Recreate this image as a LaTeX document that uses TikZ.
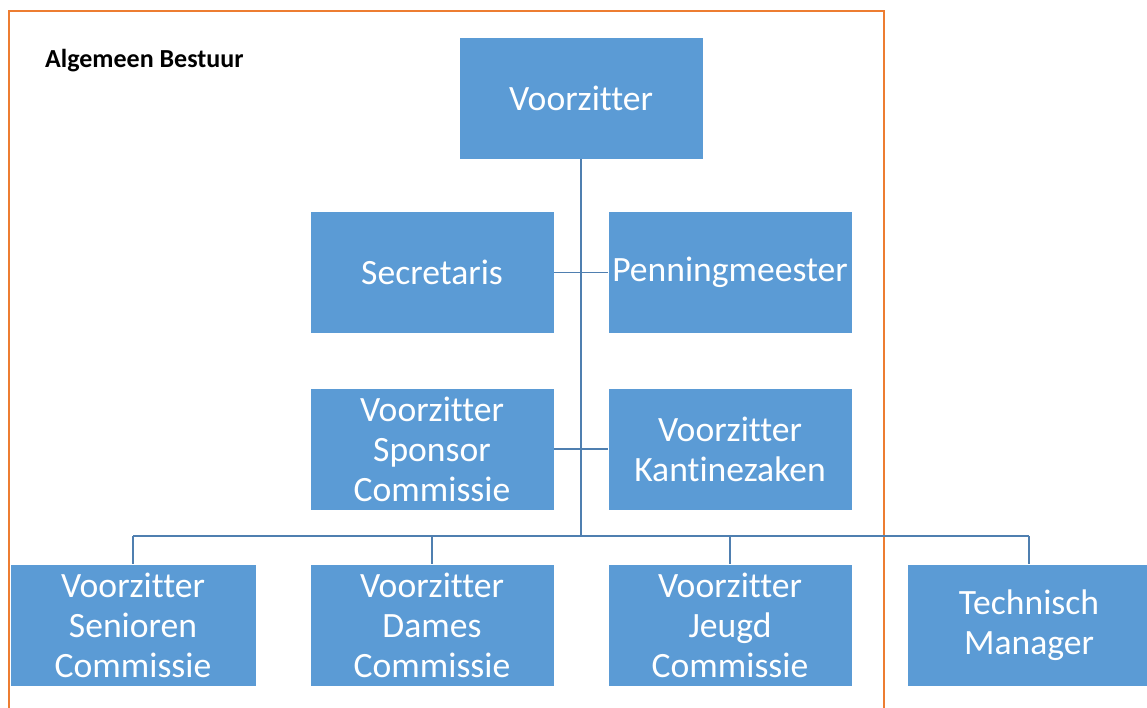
\documentclass[tikz,border=0pt]{standalone}
\usepackage{fontspec}
\setmainfont{Carlito}[Ligatures={NoCommon}]
\definecolor{boxblue}{HTML}{5B9BD5}
\definecolor{linkblue}{HTML}{4F7FB0}
\definecolor{frameorange}{HTML}{ED7D31}
\begin{document}
\begin{tikzpicture}[x=1pt,y=-1pt,
  orgbox/.style={fill=boxblue, draw=white, line width=0.6pt, text=white,
    minimum width=244pt, minimum height=122pt, inner sep=2pt, align=center,
    font=\fontsize{35.6}{40}\selectfont},
  link/.style={draw=linkblue, line width=1.2pt},
]
\useasboundingbox (0,0) rectangle (1147,708);
\begin{scope}
\clip (0,0) rectangle (1147,708);
\draw[frameorange, line width=2pt] (9,11) rectangle (884,730);
\node[anchor=base west, inner sep=0pt, font=\bfseries\fontsize{26}{30}\selectfont] (lbl) at (45,68) {Algemeen Bestuur};
\node[orgbox] (vz) at (581,98) {Voorzitter};
\node[orgbox] (sec) at (432,272.5) {Secretaris};
\node[orgbox] (pen) at (730,272.5) {Penningmeester};
\node[orgbox] (spo) at (432,449) {Voorzitter\\Sponsor\\Commissie};
\node[orgbox] (kan) at (730,449) {Voorzitter\\Kantinezaken};
\node[orgbox, minimum width=246pt] (sen) at (133,625) {Voorzitter\\Senioren\\Commissie};
\node[orgbox] (dam) at (432,625) {Voorzitter\\Dames\\Commissie};
\node[orgbox] (jeu) at (730,625) {Voorzitter\\Jeugd\\Commissie};
\node[orgbox] (tec) at (1029,625) {Technisch\\Manager};
\coordinate (bus) at (581,536);
\draw[link] (vz.south) -- (vz.south |- bus);
\draw[link] (sec.east) -- (pen.west);
\draw[link] (spo.east) -- (kan.west);
\draw[link] (sen.north |- bus) -- (tec.north |- bus);
\draw[link] (sen.north |- bus) -- (sen.north);
\draw[link] (dam.north |- bus) -- (dam.north);
\draw[link] (jeu.north |- bus) -- (jeu.north);
\draw[link] (tec.north |- bus) -- (tec.north);
\end{scope}
\end{tikzpicture}
\end{document}
